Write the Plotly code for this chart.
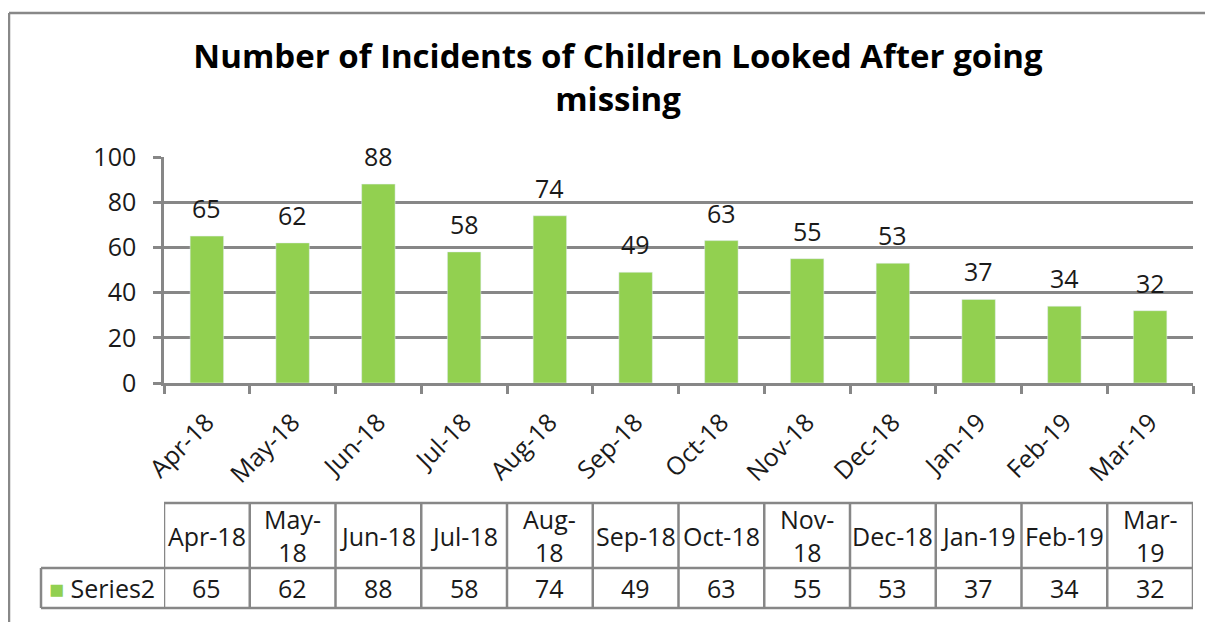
import plotly.graph_objects as go

months = ["Apr-18", "May-18", "Jun-18", "Jul-18", "Aug-18", "Sep-18",
          "Oct-18", "Nov-18", "Dec-18", "Jan-19", "Feb-19", "Mar-19"]
table_headers = ["Apr-18", "May-<br>18", "Jun-18", "Jul-18", "Aug-<br>18", "Sep-18",
                 "Oct-18", "Nov-<br>18", "Dec-18", "Jan-19", "Feb-19", "Mar-<br>19"]
values = [65, 62, 88, 58, 74, 49, 63, 55, 53, 37, 34, 32]
series_name = "Series2"
title = "Number of Incidents of Children Looked After going<br>missing"

GREEN = "#92D050"
GRID = "#878787"
FONT = "'Open Sans', 'Noto Sans', Arial, sans-serif"
TXT = "#1a1a1a"
FS = 25

OFF = 8  # page body margin
W, H = 1213 - 2 * OFF, 630 - 2 * OFF
L, R = 164 - OFF, W - (1193 - OFF)
T, B = 157 - OFF, H - (383 - OFF)
plot_h = H - T - B
plot_w = W - L - R

def py(p):
    return (H - B - (p - OFF)) / plot_h

def px(p):
    return (p - OFF - L) / plot_w

fig = go.Figure()
fig.add_trace(go.Bar(
    x=months, y=values, marker_color=GREEN, width=0.39,
    name=series_name, showlegend=False,
))

shapes = []
ann = []
# value labels above bars
for m, v in zip(months, values):
    ann.append(dict(x=m, y=v, xref="x", yref="y", text=str(v), showarrow=False,
                    yanchor="bottom", yshift=9,
                    font=dict(size=FS, color=TXT, family=FONT)))

# outer border (top and left visible)
border = dict(color="#888888", width=2.5)
shapes.append(dict(type="line", xref="paper", yref="paper",
                   x0=px(9), x1=px(1205), y0=py(13), y1=py(13), line=border, layer="below"))
shapes.append(dict(type="line", xref="paper", yref="paper",
                   x0=px(9), x1=px(9), y0=py(13), y1=py(622), line=border, layer="below"))

# data table
y_top, y_mid, y_bot = py(503), py(568), py(608)
n = len(months)
lw = dict(color=GRID, width=2.5)
shapes.append(dict(type="line", xref="x", yref="paper", x0=-0.5, x1=n - 0.5, y0=y_top, y1=y_top, line=lw))
shapes.append(dict(type="line", xref="paper", yref="paper", x0=px(41), x1=1, y0=y_mid, y1=y_mid, line=lw))
shapes.append(dict(type="line", xref="paper", yref="paper", x0=px(41), x1=1, y0=y_bot, y1=y_bot, line=lw))
for i in range(n + 1):
    shapes.append(dict(type="line", xref="x", yref="paper", x0=i - 0.5, x1=i - 0.5,
                       y0=y_top, y1=y_bot, line=lw))
shapes.append(dict(type="line", xref="paper", yref="paper", x0=px(41), x1=px(41),
                   y0=y_mid, y1=y_bot, line=lw))

for i, (h, v) in enumerate(zip(table_headers, values)):
    ann.append(dict(x=i, y=(y_top + y_mid) / 2, xref="x", yref="paper", text=h,
                    showarrow=False, font=dict(size=FS, color=TXT, family=FONT),
                    xanchor="center", yanchor="middle"))
    ann.append(dict(x=i, y=(y_mid + y_bot) / 2, xref="x", yref="paper", text=str(v),
                    showarrow=False, font=dict(size=FS, color=TXT, family=FONT),
                    xanchor="center", yanchor="middle"))
ann.append(dict(x=px(47), y=(y_mid + y_bot) / 2, xref="paper", yref="paper",
                text=f"<span style='color:{GREEN}'>■</span> {series_name}",
                showarrow=False, font=dict(size=FS, color=TXT, family=FONT),
                xanchor="left", yanchor="middle"))

fig.update_layout(
    width=W, height=H,
    margin=dict(l=L, r=R, t=T, b=B),
    paper_bgcolor="white", plot_bgcolor="white",
    title=dict(text=title, x=(618 - OFF) / W, xanchor="center", y=1 - 60 / H, yanchor="top",
               font=dict(size=33, color="black", family=FONT, weight="bold")),
    shapes=shapes, annotations=ann,
    xaxis=dict(type="category", range=[-0.5, n - 0.5], showline=True, linecolor=GRID,
               linewidth=2.5, ticks="outside", tickson="boundaries", ticklen=8,
               tickcolor=GRID, tickwidth=2.5, tickangle=-45, ticklabelstandoff=12,
               tickfont=dict(size=FS, color=TXT, family=FONT), showgrid=False),
    yaxis=dict(range=[0, 100], dtick=20, showline=True, linecolor=GRID, linewidth=2.5,
               ticks="outside", ticklen=8, tickcolor=GRID, tickwidth=2.5,
               gridcolor=GRID, gridwidth=2.5, zeroline=False, ticklabelstandoff=12,
               tickfont=dict(size=FS, color=TXT, family=FONT)),
)

fig.write_html("out.html")
